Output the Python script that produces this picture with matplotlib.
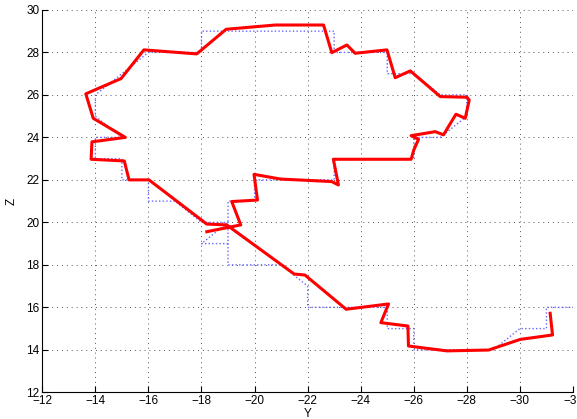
import matplotlib
matplotlib.use("Agg")
import matplotlib.pyplot as plt

# Red trajectory (Y, Z)
red_y = [-18.2, -19.48, -19.14, -20.11, -19.98, -20.97, -22.91, -23.16, -22.97, -25.9,
         -26.0, -26.18, -25.9, -26.81, -27.12, -27.59, -27.94, -28.09, -28.0, -27.0,
         -25.87, -25.3, -24.99, -23.79, -23.48, -22.91, -22.6, -20.78, -18.93, -17.82,
         -15.83, -14.97, -13.64, -13.92, -15.13, -13.87, -13.84, -15.09, -15.27, -16.02,
         -18.2, -18.95, -21.49, -21.9, -23.45, -25.05, -24.76, -25.78, -25.8, -27.25,
         -28.82, -30.01, -31.23, -31.14]
red_z = [19.56, 19.88, 20.98, 21.05, 22.26, 22.04, 21.92, 21.76, 22.97, 22.97,
         23.4, 23.91, 24.08, 24.27, 24.12, 25.09, 24.9, 25.76, 25.89, 25.92,
         27.13, 26.81, 28.12, 27.96, 28.35, 27.99, 29.29, 29.29, 29.09, 27.93,
         28.12, 26.77, 26.05, 24.9, 24.0, 23.79, 22.97, 22.89, 22.0, 22.0,
         19.92, 19.88, 17.57, 17.52, 15.91, 16.16, 15.28, 15.12, 14.18, 13.95,
         13.99, 14.49, 14.7, 15.72]

# Blue grid path (Y, Z)
blue_y = [-19, -18, -19, -19, -20, -20, -23, -23, -26, -26, -27, -28, -28, -27, -26, -25,
          -25, -23, -23, -18, -18, -16, -15, -14, -14, -15, -14, -14, -15, -15, -16, -16,
          -17, -18, -19, -19, -21, -22, -22, -25, -25, -26, -26, -29, -30, -31, -31, -32]
blue_z = [19, 19, 20, 21, 21, 22, 22, 23, 23, 24, 24, 25, 26, 26, 27, 27,
          28, 28, 29, 29, 28, 28, 27, 26, 25, 24, 24, 23, 23, 22, 22, 21,
          21, 20, 20, 18, 18, 17, 16, 16, 15, 15, 14, 14, 15, 15, 16, 16]

x_ticks = [-12, -14, -16, -18, -20, -22, -24, -26, -28, -30, -32]
z_ticks = [12, 14, 16, 18, 20, 22, 24, 26, 28, 30]

plt.rcParams['font.family'] = ['Liberation Sans', 'DejaVu Sans']

fig = plt.figure(figsize=(5.77, 4.19), dpi=100)
ax = fig.add_axes([0.0733, 0.0637, 0.9197, 0.9126])

ax.plot(blue_y, blue_z, color=(0.4, 0.4, 1.0), linestyle=(0, (1, 1.6)), linewidth=1.0)
ax.plot(red_y, red_z, color='red', linewidth=2.2)

ax.set_xlim(-12, -32)
ax.set_ylim(12, 30)
ax.set_xticks(x_ticks)
ax.set_yticks(z_ticks)
ax.set_xticklabels(['\u2212%d' % abs(v) for v in x_ticks])
ax.set_yticklabels([str(v) for v in z_ticks])

ax.grid(True, color='#555555', linestyle=(0, (1, 4)), linewidth=0.7)
ax.spines['top'].set_visible(False)
ax.spines['right'].set_visible(False)
ax.tick_params(direction='in', length=4, width=0.8, labelsize=8.5, pad=2)
ax.set_xlabel('Y', fontsize=8.5, labelpad=1)
ax.set_ylabel('Z', fontsize=8.5, labelpad=6)

fig.savefig('out.png', dpi=100)
